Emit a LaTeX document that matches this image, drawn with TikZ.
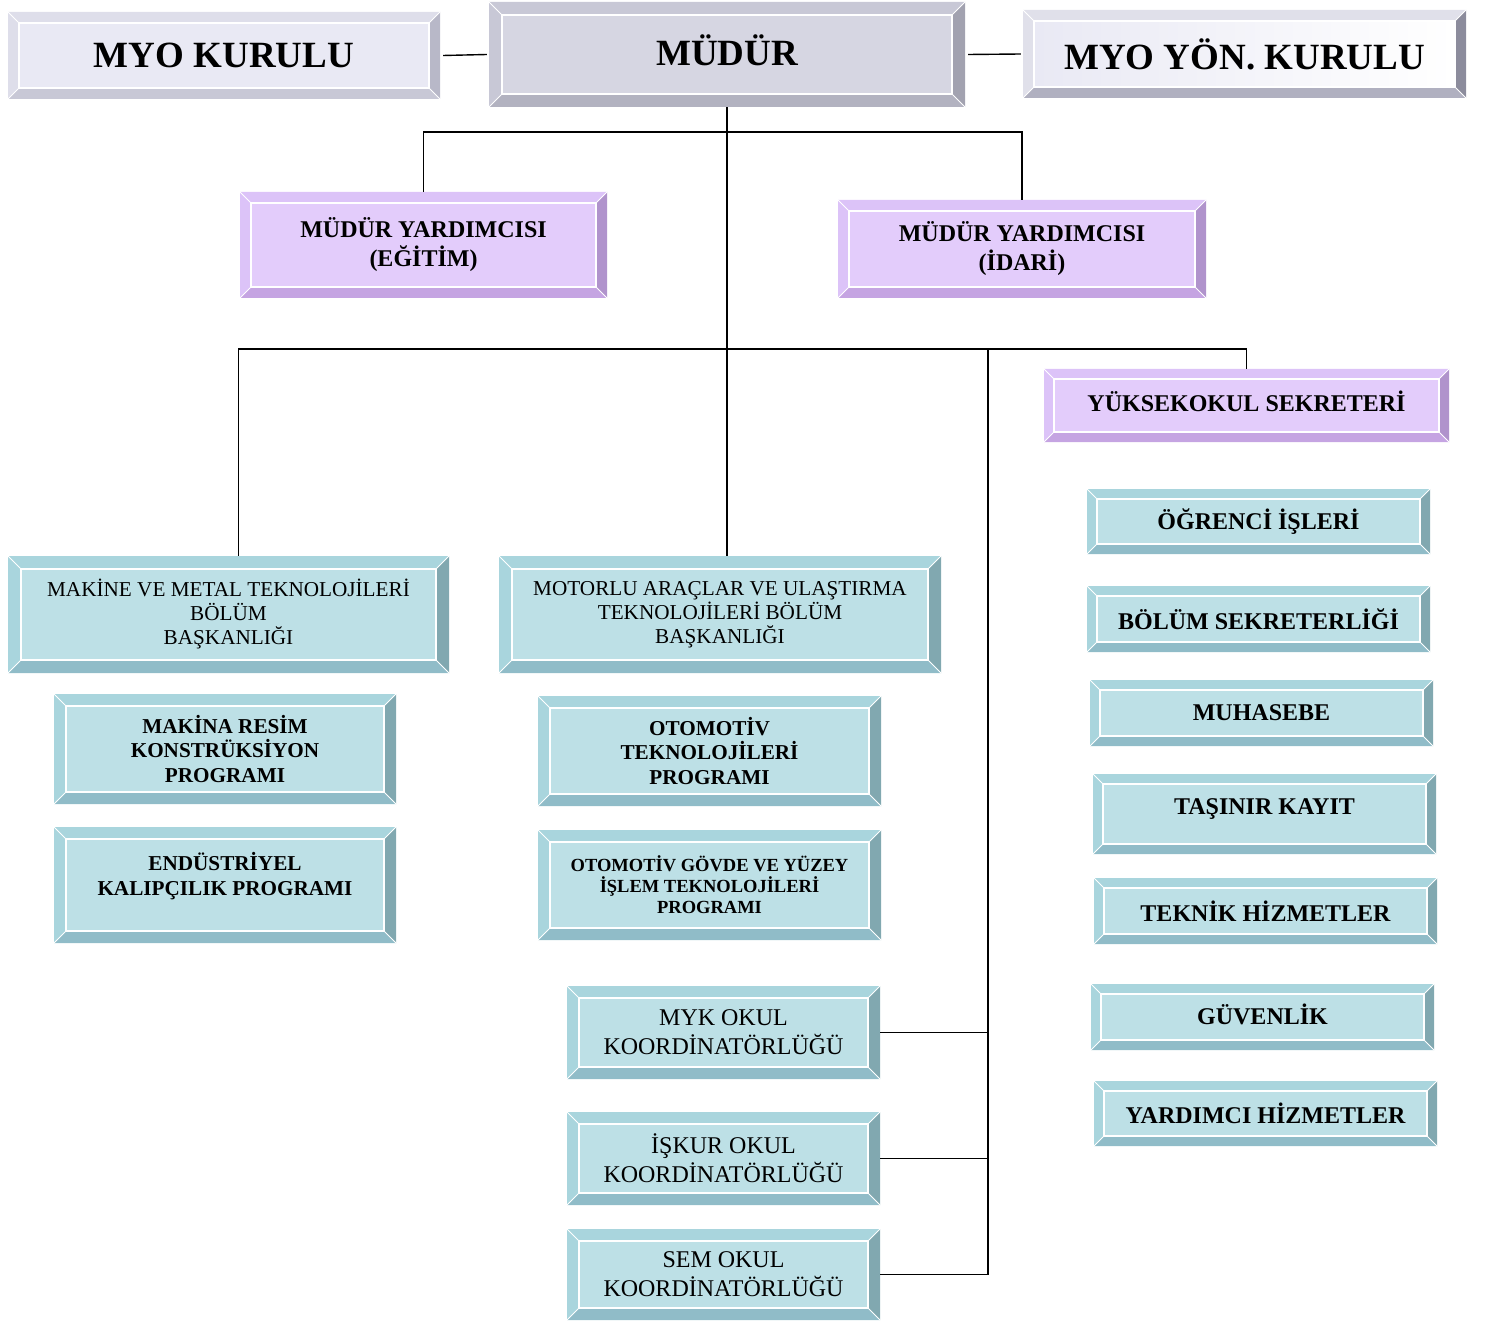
\documentclass[tikz,border=0pt]{standalone}
\usepackage{fontspec}
\setmainfont{Liberation Serif}
\definecolor{tF}{HTML}{BDE0E6}\definecolor{tT}{HTML}{A9D5DD}\definecolor{tR}{HTML}{81A8B0}\definecolor{tB}{HTML}{90BCC8}
\definecolor{pF}{HTML}{E3CCFB}\definecolor{pT}{HTML}{DCC3F8}\definecolor{pR}{HTML}{B093CC}\definecolor{pB}{HTML}{C5A4E2}
\definecolor{gF}{HTML}{D6D6E2}\definecolor{gT}{HTML}{C8C8D6}\definecolor{gR}{HTML}{A2A2B0}\definecolor{gB}{HTML}{B2B2C0}
\definecolor{lF}{HTML}{E9E9F4}\definecolor{lT}{HTML}{DEDEEA}\definecolor{lR}{HTML}{B8B8C8}\definecolor{lB}{HTML}{C8C8D6}
\definecolor{yF}{HTML}{F4F4FA}\definecolor{yT}{HTML}{E0E0EA}\definecolor{yR}{HTML}{8C8C9C}\definecolor{yB}{HTML}{B0B0C0}
\tikzset{
  tealface/.style={fill=tF}, tealtop/.style={fill=tT}, tealright/.style={fill=tR}, tealbot/.style={fill=tB},
  purpface/.style={fill=pF}, purptop/.style={fill=pT}, purpright/.style={fill=pR}, purpbot/.style={fill=pB},
  grayface/.style={fill=gF}, graytop/.style={fill=gT}, grayright/.style={fill=gR}, graybot/.style={fill=gB},
  liteface/.style={fill=lF}, litetop/.style={fill=lT}, literight/.style={fill=lR}, litebot/.style={fill=lB},
  yonface/.style={left color=lF, right color=white}, yontop/.style={fill=yT}, yonright/.style={fill=yR}, yonbot/.style={fill=yB},
  conn/.style={draw=black, line width=1.4pt},
}
\newcommand\bevbox[9]{%
  \pgfmathsetmacro\bxa{#2+#6}\pgfmathsetmacro\bya{#3+#6}%
  \pgfmathsetmacro\bxb{#4-#6}\pgfmathsetmacro\byb{#5-#6}%
  \pgfmathsetmacro\bcx{(#2+#4)/2}\pgfmathsetmacro\bcy{(#3+#5)/2}%
  \pgfmathsetmacro\bw{#4-#2}\pgfmathsetmacro\bh{#5-#3}%
  \path[#7top] (#2,#3) -- (#4,#3) -- (\bxb,\bya) -- (\bxa,\bya) -- cycle;
  \path[#7top] (#2,#3) -- (\bxa,\bya) -- (\bxa,\byb) -- (#2,#5) -- cycle;
  \path[#7right] (#4,#3) -- (#4,#5) -- (\bxb,\byb) -- (\bxb,\bya) -- cycle;
  \path[#7bot] (#2,#5) -- (#4,#5) -- (\bxb,\byb) -- (\bxa,\byb) -- cycle;
  \draw[white, line width=0.8pt] (#2,#3) -- (\bxa,\bya) (#4,#3) -- (\bxb,\bya)
        (#2,#5) -- (\bxa,\byb) (#4,#5) -- (\bxb,\byb);
  \path[#7face] (\bxa,\bya) rectangle (\bxb,\byb);
  \draw[white, line width=1.2pt] (\bxa,\bya) rectangle (\bxb,\byb);
  \node[inner sep=0pt, minimum width=\bw pt, minimum height=\bh pt, align=center, font=#8] (#1) at (\bcx,\bcy) {#9};
}
\newcommand\bigb{\bfseries\fontsize{37}{40}\selectfont}
\newcommand\midb{\bfseries\fontsize{24}{29}\selectfont}
\newcommand\depr{\fontsize{21.2}{24}\selectfont}
\newcommand\prgb{\bfseries\fontsize{21.2}{24.5}\selectfont}
\newcommand\smb{\bfseries\fontsize{18.5}{21}\selectfont}
\newcommand\kor{\fontsize{24}{29}\selectfont}
\newcommand\rgt{\bfseries\fontsize{24}{26}\selectfont}
\begin{document}
\begin{tikzpicture}[x=1pt, y=-1pt]
\useasboundingbox (0,0) rectangle (1486,1321);
\bevbox{kurulu}{8}{12}{440}{99}{11}{lite}{\bigb}{MYO KURULU}
\bevbox{mudur}{489}{2}{965}{107}{13}{gray}{\bigb}{MÜDÜR\\[-32pt]}
\bevbox{yon}{1023}{10}{1466}{98}{11}{yon}{\bigb}{MYO YÖN. KURULU}
\bevbox{egitim}{240}{192}{607}{298}{11}{purp}{\midb}{MÜDÜR YARDIMCISI\\(EĞİTİM)}
\bevbox{idari}{838}{200}{1206}{298}{11}{purp}{\midb}{MÜDÜR YARDIMCISI\\(İDARİ)}
\bevbox{sekreter}{1044}{369}{1449}{442}{10}{purp}{\midb}{YÜKSEKOKUL SEKRETERİ\\[-20pt]}
\bevbox{makine}{8}{556}{449}{673}{13}{teal}{\depr}{MAKİNE VE METAL TEKNOLOJİLERİ\\BÖLÜM\\BAŞKANLIĞI}
\bevbox{motorlu}{499}{556}{941}{673}{13}{teal}{\depr}{MOTORLU ARAÇLAR VE ULAŞTIRMA\\TEKNOLOJİLERİ BÖLÜM\\BAŞKANLIĞI}
\bevbox{resim}{54}{694}{396}{804}{12}{teal}{\prgb}{MAKİNA RESİM\\KONSTRÜKSİYON\\PROGRAMI}
\bevbox{kalip}{54}{827}{396}{943}{12}{teal}{\prgb}{ENDÜSTRİYEL\\KALIPÇILIK PROGRAMI\\[-2.5pt]}
\bevbox{otomotiv}{538}{696}{881}{806}{12}{teal}{\prgb}{OTOMOTİV\\TEKNOLOJİLERİ\\PROGRAMI}
\bevbox{govde}{538}{830}{881}{940}{12}{teal}{\smb}{OTOMOTİV GÖVDE VE YÜZEY\\İŞLEM TEKNOLOJİLERİ\\PROGRAMI}
\bevbox{myk}{567}{986}{880}{1079}{12}{teal}{\kor}{MYK OKUL\\KOORDİNATÖRLÜĞÜ}
\bevbox{iskur}{567}{1112}{880}{1205}{12}{teal}{\kor}{İŞKUR OKUL\\KOORDİNATÖRLÜĞÜ}
\bevbox{sem}{567}{1229}{880}{1320}{12}{teal}{\kor}{SEM OKUL\\KOORDİNATÖRLÜĞÜ}
\bevbox{ogrenci}{1087}{489}{1430}{554}{10}{teal}{\rgt}{ÖĞRENCİ İŞLERİ}
\bevbox{bolsek}{1087}{586}{1430}{652}{10}{teal}{\rgt}{BÖLÜM SEKRETERLİĞİ}
\bevbox{muhasebe}{1090}{680}{1433}{746}{10}{teal}{\rgt}{MUHASEBE}
\bevbox{tasinir}{1093}{774}{1436}{854}{10}{teal}{\rgt}{TAŞINIR KAYIT\\[-12pt]}
\bevbox{teknik}{1094}{878}{1437}{944}{10}{teal}{\rgt}{TEKNİK HİZMETLER}
\bevbox{guvenlik}{1091}{984}{1434}{1050}{10}{teal}{\rgt}{GÜVENLİK\\[-20pt]}
\bevbox{yardimci}{1094}{1081}{1437}{1146}{10}{teal}{\rgt}{YARDIMCI HİZMETLER}
% connectors
\draw[conn] ([xshift=3]kurulu.east) -- ([xshift=-2]mudur.west);
\draw[conn] ([xshift=3]mudur.east) -- ([xshift=-2]yon.west);
\coordinate (b1) at (727,132);
\coordinate (b2) at (727,349);
\coordinate (b3) at (988,349);
\draw[conn] (mudur.south) -- (mudur.south |- motorlu.north);
\draw[conn] (egitim.north) |- (b1) -| (idari.north);
\draw[conn] ([xshift=10]makine.north) |- (b2) -| (sekreter.north);
\draw[conn] (myk.east) -| (b3);
\draw[conn] (iskur.east) -| (b3);
\draw[conn] (sem.east) -| (b3);
\end{tikzpicture}
\end{document}
